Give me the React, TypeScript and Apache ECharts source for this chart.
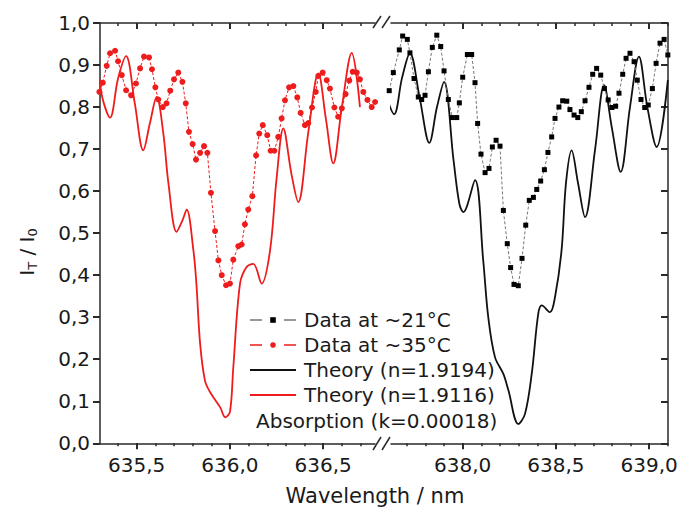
import React, { useEffect, useRef } from 'react';
import * as echarts from 'echarts';

const FONT = 'DejaVu Sans, sans-serif';
const TXT = '#1a1a1a';
const AX = '#2a2a2a';
const RED = '#ee1c1c';

// ---- Data at ~35°C (red, left panel)
const redDataX = [635.300, 635.318, 635.339, 635.357, 635.384, 635.400, 635.420, 635.443, 635.470, 635.496, 635.518, 635.539, 635.566, 635.582, 635.600, 635.616, 635.640, 635.660, 635.680, 635.700, 635.723, 635.745, 635.763, 635.780, 635.800, 635.818, 635.840, 635.861, 635.879, 635.898, 635.920, 635.938, 635.956, 635.979, 636.000, 636.018, 636.045, 636.063, 636.080, 636.098, 636.120, 636.140, 636.157, 636.176, 636.200, 636.218, 636.238, 636.259, 636.277, 636.295, 636.317, 636.340, 636.361, 636.379, 636.402, 636.420, 636.440, 636.460, 636.474, 636.497, 636.519, 636.536, 636.560, 636.580, 636.600, 636.620, 636.640, 636.658, 636.680, 636.697, 636.715, 636.737, 636.760, 636.778];
const redDataY = [0.836, 0.858, 0.898, 0.928, 0.934, 0.909, 0.876, 0.840, 0.828, 0.856, 0.892, 0.920, 0.918, 0.890, 0.847, 0.818, 0.800, 0.809, 0.839, 0.866, 0.882, 0.860, 0.809, 0.741, 0.712, 0.675, 0.691, 0.707, 0.691, 0.596, 0.505, 0.435, 0.400, 0.376, 0.380, 0.437, 0.469, 0.473, 0.521, 0.556, 0.588, 0.685, 0.737, 0.757, 0.733, 0.696, 0.696, 0.729, 0.773, 0.816, 0.847, 0.850, 0.823, 0.786, 0.757, 0.762, 0.799, 0.836, 0.874, 0.882, 0.864, 0.844, 0.799, 0.777, 0.797, 0.831, 0.863, 0.884, 0.882, 0.866, 0.836, 0.817, 0.800, 0.812];

// ---- Theory (n=1.9116) (red, left panel)
const redTheoryX = [635.300, 635.320, 635.357, 635.400, 635.443, 635.490, 635.535, 635.571, 635.607, 635.643, 635.670, 635.714, 635.745, 635.768, 635.804, 635.820, 635.840, 635.866, 635.893, 635.947, 635.975, 636.000, 636.018, 636.054, 636.090, 636.125, 636.170, 636.215, 636.250, 636.286, 636.330, 636.366, 636.420, 636.474, 636.515, 636.554, 636.600, 636.653, 636.697];
const redTheoryY = [0.868, 0.815, 0.775, 0.868, 0.921, 0.808, 0.697, 0.762, 0.824, 0.736, 0.619, 0.503, 0.530, 0.556, 0.459, 0.380, 0.237, 0.149, 0.122, 0.086, 0.062, 0.075, 0.181, 0.380, 0.420, 0.427, 0.380, 0.459, 0.630, 0.749, 0.640, 0.574, 0.740, 0.880, 0.770, 0.666, 0.800, 0.929, 0.800];

// ---- Data at ~21°C (black, right panel)
const blackDataX = [637.606, 637.628, 637.660, 637.678, 637.703, 637.717, 637.739, 637.762, 637.780, 637.798, 637.816, 637.837, 637.861, 637.882, 637.900, 637.923, 637.944, 637.968, 637.982, 638.000, 638.025, 638.048, 638.066, 638.080, 638.098, 638.120, 638.141, 638.159, 638.179, 638.200, 638.218, 638.239, 638.257, 638.275, 638.298, 638.318, 638.338, 638.357, 638.379, 638.397, 638.418, 638.438, 638.457, 638.477, 638.495, 638.516, 638.536, 638.558, 638.575, 638.597, 638.617, 638.636, 638.656, 638.677, 638.697, 638.718, 638.740, 638.760, 638.780, 638.800, 638.820, 638.838, 638.858, 638.876, 638.897, 638.919, 638.936, 638.956, 638.976, 638.995, 639.017, 639.037, 639.058, 639.080, 639.100];
const blackDataY = [0.839, 0.882, 0.936, 0.969, 0.961, 0.929, 0.868, 0.824, 0.818, 0.828, 0.884, 0.942, 0.971, 0.944, 0.886, 0.818, 0.775, 0.775, 0.810, 0.871, 0.925, 0.925, 0.858, 0.761, 0.688, 0.644, 0.654, 0.705, 0.721, 0.707, 0.554, 0.475, 0.418, 0.378, 0.375, 0.440, 0.519, 0.578, 0.585, 0.604, 0.624, 0.651, 0.692, 0.729, 0.773, 0.800, 0.815, 0.814, 0.794, 0.781, 0.775, 0.789, 0.815, 0.847, 0.878, 0.892, 0.876, 0.844, 0.817, 0.799, 0.802, 0.833, 0.878, 0.916, 0.928, 0.908, 0.864, 0.818, 0.799, 0.805, 0.844, 0.904, 0.952, 0.961, 0.924];

// ---- Theory (n=1.9194) (black, right panel)
const blackTheoryX = [637.589, 637.632, 637.675, 637.717, 637.770, 637.821, 637.862, 637.900, 637.951, 637.982, 638.003, 638.066, 638.110, 638.137, 638.173, 638.218, 638.245, 638.298, 638.334, 638.370, 638.405, 638.424, 638.468, 638.495, 638.530, 638.554, 638.584, 638.618, 638.656, 638.710, 638.758, 638.800, 638.847, 638.897, 638.945, 638.990, 639.040, 639.100];
const blackTheoryY = [0.828, 0.783, 0.870, 0.928, 0.820, 0.715, 0.800, 0.860, 0.673, 0.570, 0.550, 0.626, 0.435, 0.300, 0.205, 0.165, 0.126, 0.046, 0.070, 0.165, 0.308, 0.328, 0.312, 0.348, 0.459, 0.620, 0.697, 0.620, 0.538, 0.700, 0.852, 0.750, 0.646, 0.800, 0.920, 0.800, 0.705, 0.864];

// ---- Axis ticks
const leftMajor = [635.5, 636.0, 636.5];
const leftMinor = [635.4, 635.5, 635.6, 635.7, 635.8, 635.9, 636.0, 636.1, 636.2, 636.3, 636.4, 636.5, 636.6, 636.7];
const rightMajor = [638.0, 638.5, 639.0];
const rightMinor = [637.7, 637.8, 637.9, 638.0, 638.1, 638.2, 638.3, 638.4, 638.5, 638.6, 638.7, 638.8, 638.9, 639.0, 639.1];

const LEFT_MIN = 635.3032;
const LEFT_MAX = 636.7777;
const RIGHT_MIN = 637.6155;
const RIGHT_MAX = 639.1008;

const zip = (xs: number[], ys: number[]) => xs.map((x, i) => [x, ys[i]]);
const comma = (v: number) => v.toFixed(1).replace('.', ',');

function xAxesFor(gridIndex: number, min: number, max: number, major: number[], minor: number[]) {
  const line = { color: AX, width: 1.5 };
  const base = { type: 'value', gridIndex, min, max, splitLine: { show: false } };
  return [
    {
      ...base,
      position: 'bottom',
      axisLine: { show: true, onZero: false, lineStyle: line },
      axisTick: { show: true, inside: false, length: 6, customValues: major, lineStyle: { color: AX, width: 2 } },
      axisLabel: {
        show: true,
        customValues: major,
        formatter: (v: number) => comma(v),
        margin: 12,
        fontSize: 20,
        fontFamily: FONT,
        color: TXT,
      },
    },
    {
      ...base,
      position: 'bottom',
      axisLine: { show: false, onZero: false },
      axisTick: { show: true, inside: false, length: 3, customValues: minor, lineStyle: { color: AX, width: 1.5 } },
      axisLabel: { show: false },
    },
    {
      ...base,
      position: 'top',
      axisLine: { show: true, onZero: false, lineStyle: line },
      axisTick: { show: true, inside: true, length: 6, customValues: major, lineStyle: { color: AX, width: 2 } },
      axisLabel: { show: false },
    },
    {
      ...base,
      position: 'top',
      axisLine: { show: false, onZero: false },
      axisTick: { show: true, inside: true, length: 3, customValues: minor, lineStyle: { color: AX, width: 1.5 } },
      axisLabel: { show: false },
    },
  ];
}

const option: any = {
  animation: false,
  backgroundColor: '#ffffff',
  grid: [
    { left: 100, top: 23, width: 275, height: 420.3, containLabel: false },
    { left: 391, top: 23, width: 277, height: 420.3, containLabel: false },
  ],
  xAxis: [
    ...xAxesFor(0, LEFT_MIN, LEFT_MAX, leftMajor, leftMinor),
    ...xAxesFor(1, RIGHT_MIN, RIGHT_MAX, rightMajor, rightMinor),
  ],
  yAxis: [
    {
      type: 'value',
      gridIndex: 0,
      position: 'left',
      min: 0,
      max: 1,
      interval: 0.1,
      splitLine: { show: false },
      axisLine: { show: true, onZero: false, lineStyle: { color: AX, width: 1.5 } },
      axisTick: { show: true, inside: false, length: 7, lineStyle: { color: AX, width: 2 } },
      axisLabel: { show: true, formatter: (v: number) => comma(v), margin: 10, fontSize: 20, fontFamily: FONT, color: TXT },
    },
    {
      type: 'value',
      gridIndex: 1,
      position: 'right',
      min: 0,
      max: 1,
      interval: 0.1,
      splitLine: { show: false },
      axisLine: { show: true, onZero: false, lineStyle: { color: AX, width: 1.5 } },
      axisTick: { show: true, inside: true, length: 7, lineStyle: { color: AX, width: 2 } },
      axisLabel: { show: false },
    },
  ],
  legend: {
    orient: 'vertical',
    left: 249,
    top: 310,
    padding: 0,
    itemWidth: 46,
    itemHeight: 7,
    itemGap: 5,
    textStyle: { fontSize: 20, fontFamily: FONT, color: TXT, padding: [0, 0, 0, 3] },
    data: [
      { name: 'Data at ~21°C', lineStyle: { type: [12, 22], color: '#777', width: 1.5 } },
      { name: 'Data at ~35°C', lineStyle: { type: [12, 22], color: RED, width: 1.5 } },
      { name: 'Theory (n=1.9194)', itemStyle: { opacity: 0 } },
      { name: 'Theory (n=1.9116)', itemStyle: { opacity: 0 } },
    ],
  },
  series: [
    {
      name: 'Theory (n=1.9116)',
      type: 'line',
      xAxisIndex: 0,
      yAxisIndex: 0,
      data: zip(redTheoryX, redTheoryY),
      smooth: 0.35,
      showSymbol: false,
      symbol: 'none',
      clip: false,
      lineStyle: { color: RED, width: 1.8 },
      itemStyle: { color: RED },
      z: 2,
    },
    {
      name: 'Data at ~35°C',
      type: 'line',
      xAxisIndex: 0,
      yAxisIndex: 0,
      data: zip(redDataX, redDataY),
      symbol: 'circle',
      symbolSize: 6,
      clip: false,
      lineStyle: { color: RED, width: 1, type: [3, 2] },
      itemStyle: { color: RED },
      z: 3,
    },
    {
      name: 'Theory (n=1.9194)',
      type: 'line',
      xAxisIndex: 4,
      yAxisIndex: 1,
      data: zip(blackTheoryX, blackTheoryY),
      smooth: 0.35,
      showSymbol: false,
      symbol: 'none',
      clip: false,
      lineStyle: { color: '#111', width: 1.8 },
      itemStyle: { color: '#111' },
      z: 2,
    },
    {
      name: 'Data at ~21°C',
      type: 'line',
      xAxisIndex: 4,
      yAxisIndex: 1,
      data: zip(blackDataX, blackDataY),
      symbol: 'rect',
      symbolSize: 5,
      clip: false,
      lineStyle: { color: '#777', width: 1, type: [3, 2] },
      itemStyle: { color: '#000' },
      z: 3,
    },
  ],
  graphic: [
    { type: 'line', shape: { x1: 373, y1: 28, x2: 381, y2: 16 }, style: { stroke: AX, lineWidth: 1.5 } },
    { type: 'line', shape: { x1: 382, y1: 28, x2: 390, y2: 16 }, style: { stroke: AX, lineWidth: 1.5 } },
    { type: 'line', shape: { x1: 373, y1: 450, x2: 381, y2: 437 }, style: { stroke: AX, lineWidth: 1.5 } },
    { type: 'line', shape: { x1: 382, y1: 450, x2: 390, y2: 437 }, style: { stroke: AX, lineWidth: 1.5 } },
    {
      type: 'text',
      x: 256,
      y: 421,
      style: { text: 'Absorption (k=0.00018)', fontSize: 20, fontFamily: FONT, fill: TXT, align: 'left', verticalAlign: 'middle' },
    },
    {
      type: 'text',
      x: 375,
      y: 496,
      style: { text: 'Wavelength / nm', fontSize: 21, fontFamily: FONT, fill: TXT, align: 'center', verticalAlign: 'middle' },
    },
    {
      type: 'text',
      x: 27,
      y: 252,
      rotation: Math.PI / 2,
      style: {
        text: '{m|I}{s|T}{m| / I}{s|0}',
        align: 'center',
        verticalAlign: 'middle',
        fill: TXT,
        rich: {
          m: { fontSize: 20, fontFamily: FONT, fill: TXT, lineHeight: 24, verticalAlign: 'middle' },
          s: { fontSize: 13, fontFamily: FONT, fill: TXT, lineHeight: 24, verticalAlign: 'bottom', padding: [12, 0, 0, 0] },
        },
      },
    },
  ],
};

export default function App() {
  const ref = useRef<HTMLDivElement>(null);
  useEffect(() => {
    if (!ref.current) return;
    const chart = echarts.init(ref.current, null, { renderer: 'svg' });
    chart.setOption(option);
    return () => chart.dispose();
  }, []);
  return (
    <div
      ref={ref}
      style={{ position: 'absolute', left: 0, top: 0, width: 681, height: 507, background: '#fff' }}
    />
  );
}
